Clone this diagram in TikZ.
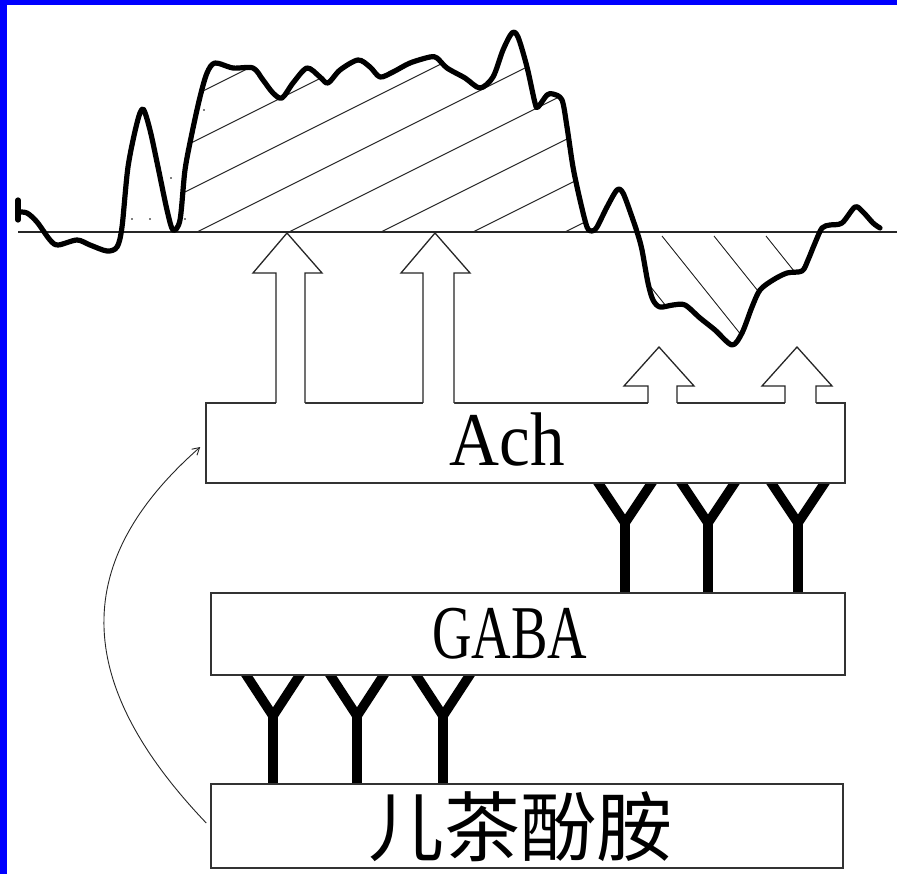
\documentclass[tikz,border=0pt]{standalone}
\usepackage{fontspec}
\setmainfont{Liberation Serif}
\newfontfamily\cjk{Noto Sans CJK SC}
\usetikzlibrary{arrows.meta}
\pgfdeclarelayer{back}
\pgfdeclarelayer{mid}
\pgfsetlayers{back,mid,main}
\definecolor{bordblue}{RGB}{0,0,255}
\begin{document}
\begin{tikzpicture}[x=1pt,y=-1pt,
  box/.style={draw=black!80, line width=1.5pt, fill=white, inner sep=0pt},
  lbl/.style={inner sep=0pt, font=\fontsize{76}{80}\selectfont},
  wave/.style={line width=5.2pt, line join=round, line cap=round},
  hatchline/.style={line width=0.9pt, black!85},
  recept/.style={line width=9.5pt, line join=miter},
  blockarrow/.style={draw=black!85, line width=1.3pt, line join=miter},
  feedback/.style={line width=0.9pt, black!85, -{Straight Barb[length=7pt,width=8pt,line width=0.9pt]}}]
\useasboundingbox (0,0) rectangle (897,874);
\begin{pgfonlayer}{back}
  \fill[white] (0,0) rectangle (897,874);
  \fill[bordblue] (0,0) rectangle (7,874);
  \fill[bordblue] (0,0) rectangle (897,5);
\end{pgfonlayer}

% boxes
\node[box, minimum width=639pt, minimum height=80pt] (ach) at (525.5,443) {};
\node[box, minimum width=634pt, minimum height=82pt] (gaba) at (528,634) {};
\node[box, minimum width=632pt, minimum height=84pt] (cat) at (527,826) {};

% receptors
\begin{pgfonlayer}{mid}
  \foreach \s in {625,708,798}{
    \draw[recept] (\s-32,475) -- (\s,523) -- (\s+32,475);
    \draw[recept] (\s,523) -- (\s,600);
  }
  \foreach \s in {273,357,443}{
    \draw[recept] (\s-32,667) -- (\s,716) -- (\s+32,667);
    \draw[recept] (\s,716) -- (\s,792);
  }
\end{pgfonlayer}

% block arrows from Ach
\foreach \sl/\sr/\hl/\hr/\tx/\ty/\hb in {276/305/253/322/287/233/273, 423/454/401/470/435/233/273, 648/677/624/694/659/347/386, 785/816/762/832/797/347/386}{
  \fill[white] (\sl,405) -- (\sl,\hb) -- (\hl,\hb) -- (\tx,\ty) -- (\hr,\hb) -- (\sr,\hb) -- (\sr,405) -- cycle;
  \draw[blockarrow] (\sl,403) -- (\sl,\hb) -- (\hl,\hb) -- (\tx,\ty) -- (\hr,\hb) -- (\sr,\hb) -- (\sr,403);
}

% hatching above baseline
\begin{scope}
  \clip plot[smooth] coordinates {(173,232) (180,220) (185,170) (192,133) (200,97) (207,73) (215,63) (233,68) (253,68) (263,80) (273,93) (282,98) (293,83) (307,68) (320,77) (328,83) (340,70) (358,60) (370,67) (380,77) (393,72) (410,63) (430,57) (437,58) (447,68) (465,78) (480,88) (493,77) (503,50) (512,33) (518,37) (527,67) (535,103) (538,107) (547,95) (553,94) (562,100) (567,127) (573,167) (580,200) (587,227) (592,232)} -- cycle;
  \foreach \k in {-8,...,4}
    \draw[hatchline] ({197+92*\k},232) -- ++(700,-350);
\end{scope}
% hatching below baseline
\begin{scope}
  \clip plot[smooth] coordinates {(637,235) (642,250) (648,283) (653,300) (660,307) (673,305) (685,305) (700,318) (715,330) (732,345) (742,333) (752,307) (760,290) (773,280) (787,273) (802,271) (808,260) (815,243) (821,235)} -- cycle;
  \foreach \k in {-2,...,4}
    \draw[hatchline] ({610+52*\k},236) -- ++(200,250);
\end{scope}
% stipple dots
\foreach \p in {(132,219),(150,219),(171,178),(185,219),(204,110)}
  \fill \p circle (0.9);

% baseline
\coordinate (bl0) at (18,232);
\coordinate (bl1) at (897,232);
\draw[line width=1.5pt, black!85] (bl0) -- (bl1);

% waveform
\draw[wave] (18,200) -- (18,220);
\draw[wave] plot[smooth, tension=0.5] coordinates {(18,212) (27,213) (37,222) (50,240) (58,245) (77,240) (90,245) (107,251) (117,247) (122,227) (128,167) (137,123) (143,109) (150,130) (158,167) (167,210) (173,230) (180,220) (185,170) (192,133) (200,97) (207,73) (215,63) (233,68) (253,68) (263,80) (273,93) (282,98) (293,83) (307,68) (320,77) (328,83) (340,70) (358,60) (370,67) (380,77) (393,72) (410,63) (430,57) (437,58) (447,68) (465,78) (480,88) (493,77) (503,50) (512,33) (518,37) (527,67) (535,103) (538,107) (547,95) (553,94) (562,100) (567,127) (573,167) (580,200) (587,227) (592,231) (597,227) (607,207) (617,190) (623,193) (632,217) (638,235) (642,250) (648,283) (653,300) (660,307) (673,305) (685,305) (700,318) (715,330) (732,345) (742,333) (752,307) (760,290) (773,280) (787,273) (802,271) (808,260) (815,243) (822,228) (830,225) (842,223) (855,207) (863,212) (873,223) (880,228)};

% labels
\node[lbl, anchor=base] (achlbl) at (507,465) {\scalebox{0.91}[1]{Ach}};
\node[lbl, anchor=base] (gabalbl) at (510,658) {\scalebox{0.72}[1]{GABA}};
\node[lbl, font=\cjk\fontsize{76}{80}\selectfont] (catlbl) at (520,827) {儿茶酚胺};

% feedback arrow
\draw[feedback] ([xshift=-4pt,yshift=3pt]cat.west) .. controls (70,680) and (72,560) .. ([xshift=-5pt,yshift=-4pt]ach.west);
\end{tikzpicture}
\end{document}
